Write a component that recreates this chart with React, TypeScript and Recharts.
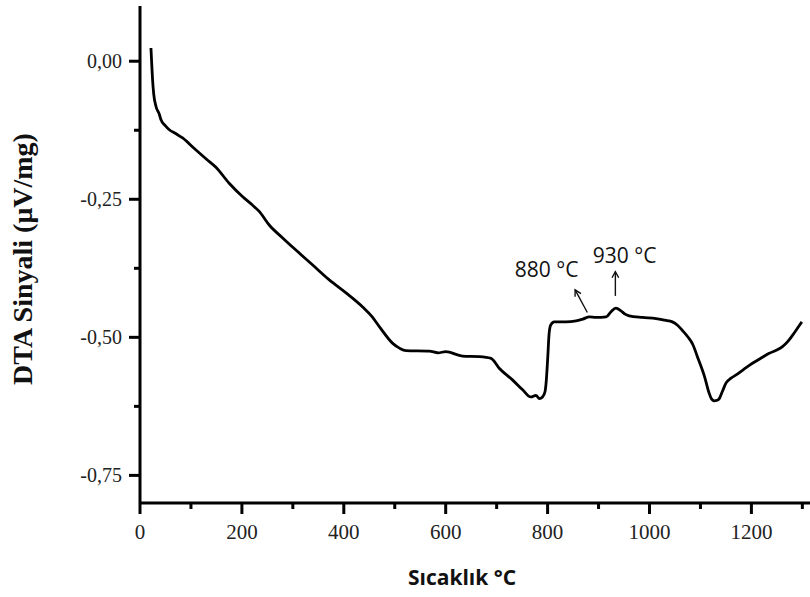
import { LineChart, Line, XAxis, YAxis, Label, ReferenceLine, ReferenceDot } from "recharts";

// Sıcaklık (°C) – DTA eğrisi okuma noktaları
const temps = [
  21.5, 23, 24.7, 27, 31.4, 37.9, 41.2, 50, 57.5, 70, 83.6, 106.6, 130, 149, 175, 201, 220, 234, 254,
  280, 306, 340, 371.5, 405, 437, 455, 470, 496, 510, 522, 568, 585, 600, 633, 666, 689, 705, 731,
  751, 767, 777, 784, 790, 795, 797, 800, 803, 806, 813, 836, 856, 869, 882, 895, 915, 924, 934, 944,
  952, 960, 986, 1013, 1030, 1045, 1055, 1065, 1075, 1085, 1094, 1108, 1117, 1122, 1127, 1133, 1137,
  1143, 1150, 1160, 1170, 1185, 1202, 1220, 1235, 1250, 1261, 1272, 1281, 1290, 1299,
];
const signal = [
  0.024, -0.005, -0.034, -0.06, -0.082, -0.096, -0.106, -0.117, -0.124, -0.131, -0.139, -0.158, -0.177,
  -0.192, -0.221, -0.245, -0.26, -0.272, -0.297, -0.32, -0.342, -0.37, -0.396, -0.42, -0.445, -0.462,
  -0.481, -0.511, -0.52, -0.524, -0.525, -0.528, -0.526, -0.534, -0.535, -0.538, -0.556, -0.577, -0.595,
  -0.608, -0.605, -0.611, -0.608, -0.598, -0.583, -0.541, -0.493, -0.478, -0.472, -0.472, -0.47, -0.467,
  -0.463, -0.464, -0.463, -0.454, -0.447, -0.452, -0.458, -0.461, -0.464, -0.466, -0.469, -0.472, -0.478,
  -0.488, -0.499, -0.513, -0.535, -0.571, -0.601, -0.612, -0.615, -0.614, -0.611, -0.598, -0.583, -0.574,
  -0.568, -0.558, -0.547, -0.537, -0.529, -0.523, -0.517, -0.507, -0.496, -0.484, -0.472,
];

const xTicks = [0, 100, 200, 300, 400, 500, 600, 700, 800, 900, 1000, 1100, 1200, 1300];
const yTicks = [-0.75, -0.625, -0.5, -0.375, -0.25, -0.125, 0];

// işaretlenen pikler
const peakLabels = ["880 °C", "930 °C"];
const peakTextPos = [
  [798, -0.39],
  [951, -0.365],
];
const peakArrows = [
  [878, -0.455, 854, -0.414],
  [933, -0.425, 933, -0.381],
];

const data = temps.map((t, i) => ({ t, v: signal[i] }));

const serif = "'Liberation Serif', 'Times New Roman', serif";
const sans = "'Open Sans', 'Noto Sans', sans-serif";

const XTick = (props: any) => {
  const { x, y, payload } = props;
  const major = payload.value % 200 === 0;
  return (
    <g>
      <line x1={x} y1={y} x2={x} y2={y + (major ? 11 : 6)} stroke="#000" strokeWidth={3} />
      {major && (
        <text x={x} y={y + 36} textAnchor="middle" fontFamily={serif} fontSize={21} fill="#222">
          {payload.value}
        </text>
      )}
    </g>
  );
};

const YTick = (props: any) => {
  const { x, y, payload } = props;
  const v = payload.value;
  const major = Math.abs(v * 4 - Math.round(v * 4)) < 1e-6;
  return (
    <g>
      <line x1={x} y1={y} x2={x - (major ? 11 : 6)} y2={y} stroke="#000" strokeWidth={3} />
      {major && (
        <text x={x - 18} y={y + 7} textAnchor="end" fontFamily={serif} fontSize={20} fill="#222">
          {v.toFixed(2).replace(".", ",")}
        </text>
      )}
    </g>
  );
};

const Arrow = (p: any) => {
  const { x1, y1, x2, y2 } = p;
  const a = Math.atan2(y2 - y1, x2 - x1);
  const h = 7;
  const s = 0.5;
  return (
    <g stroke="#111" strokeWidth={1.4} fill="none">
      <line x1={x1} y1={y1} x2={x2} y2={y2} />
      <polyline
        points={`${x2 - h * Math.cos(a - s)},${y2 - h * Math.sin(a - s)} ${x2},${y2} ${x2 - h * Math.cos(a + s)},${y2 - h * Math.sin(a + s)}`}
      />
    </g>
  );
};

export default function App() {
  return (
    <div style={{ position: "absolute", left: 0, top: 0, background: "#fff" }}>
      <LineChart width={810} height={597} data={data} margin={{ top: 6, right: 0, bottom: 0, left: 0 }}>
        <XAxis
          type="number"
          dataKey="t"
          domain={[0, 1315]}
          ticks={xTicks}
          interval={0}
          allowDataOverflow
          height={94}
          tickSize={0}
          tickMargin={0}
          tickLine={false}
          axisLine={{ stroke: "#000", strokeWidth: 3 }}
          tick={<XTick />}
        >
          <Label
            content={() => (
              <text x={462} y={585} textAnchor="middle" fontFamily={sans} fontWeight="bold" fontSize={21} fill="#111">
                Sıcaklık °C
              </text>
            )}
          />
        </XAxis>
        <YAxis
          type="number"
          domain={[-0.8, 0.1]}
          ticks={yTicks}
          interval={0}
          allowDataOverflow
          width={140}
          tickSize={0}
          tickMargin={0}
          tickLine={false}
          axisLine={{ stroke: "#000", strokeWidth: 3 }}
          tick={<YTick />}
        >
          <Label
            content={() => (
              <text
                x={32}
                y={259}
                transform="rotate(-90 32 259)"
                textAnchor="middle"
                fontFamily={serif}
                fontWeight="bold"
                fontSize={28}
                fill="#111"
              >
                DTA Sinyali (μV/mg)
              </text>
            )}
          />
        </YAxis>
        <Line
          type="monotone"
          dataKey="v"
          stroke="#000"
          strokeWidth={2.8}
          dot={false}
          isAnimationActive={false}
        />
        {peakArrows.map((a, i) => (
          <ReferenceLine
            key={"a" + i}
            segment={[
              { x: a[0], y: a[1] },
              { x: a[2], y: a[3] },
            ]}
            shape={Arrow}
          />
        ))}
        {peakLabels.map((lbl, i) => (
          <ReferenceDot
            key={"t" + i}
            x={peakTextPos[i][0]}
            y={peakTextPos[i][1]}
            shape={(p: any) => (
              <text x={p.cx} y={p.cy} textAnchor="middle" fontFamily={sans} fontSize={21} fill="#111">
                {lbl}
              </text>
            )}
          />
        ))}
      </LineChart>
    </div>
  );
}
